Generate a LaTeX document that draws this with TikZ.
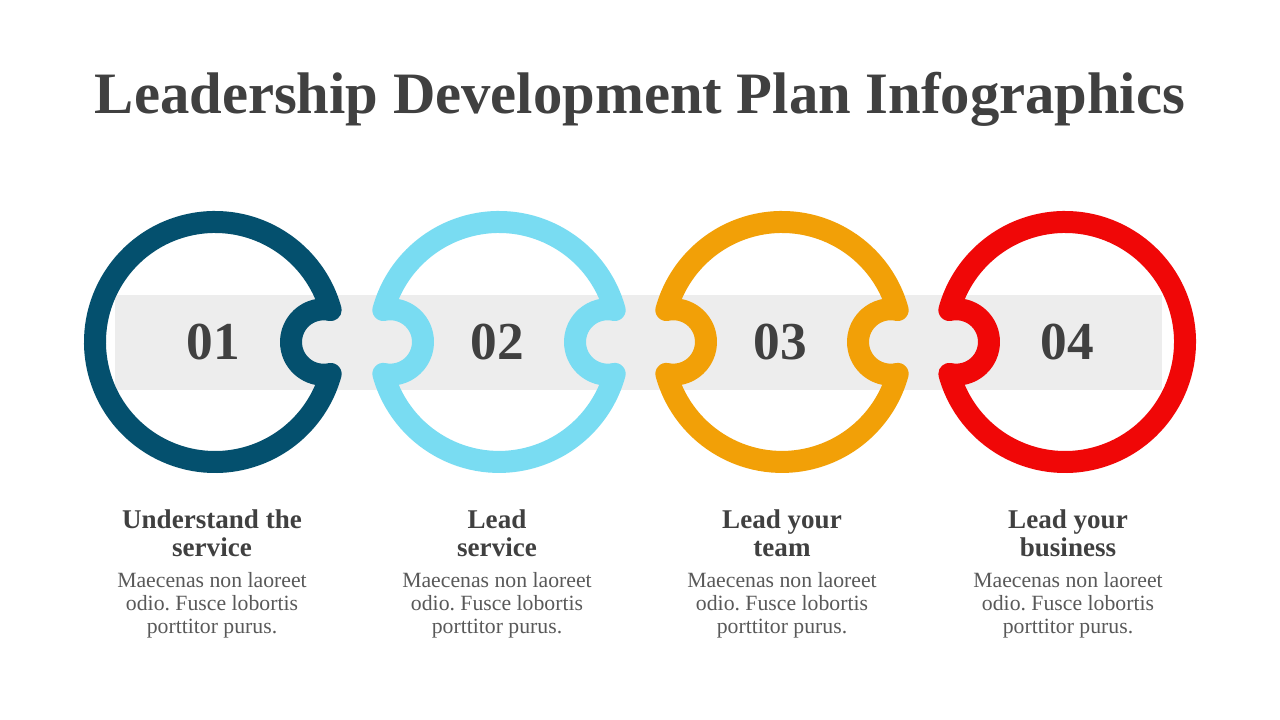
\documentclass[tikz,border=0pt]{standalone}
\usepackage{fontspec}
\setmainfont{Liberation Serif}
\frenchspacing
\definecolor{cA}{HTML}{04506E}
\definecolor{cB}{HTML}{79DCF2}
\definecolor{cC}{HTML}{F2A007}
\definecolor{cD}{HTML}{F00707}
\definecolor{band}{HTML}{EDEDED}
\definecolor{ink}{HTML}{404040}
\definecolor{body}{HTML}{595959}
\begin{document}
\begin{tikzpicture}[x=0.75pt,y=0.75pt,
  ring/.style={line width=16.5pt,line join=round,line cap=round},
  numlbl/.style={text=ink,font=\bfseries\fontsize{40}{40}\selectfont},
  headlbl/.style={text=ink,align=center,font=\bfseries\fontsize{20.3}{21}\selectfont},
  bodylbl/.style={text=body,align=center,font=\fontsize{16.3}{17.25}\selectfont}]
\useasboundingbox (0,0) rectangle (1280,720);
\fill[white] (0,0) rectangle (1280,720);
\node[text=ink,font=\bfseries\fontsize{44}{44}\selectfont] (title) at (640,621) {Leadership Development Plan Infographics};
\fill[band] (115,425) rectangle (1162,330);
% ring 1: notch on right
\draw[ring,draw=cA] (215,378) ++(15.46:120) arc[start angle=15.46,end angle=344.54,radius=120]
  arc[start angle=282.3,end angle=77.7,radius=32.7] -- cycle;
% ring 2: notches on both sides
\draw[ring,draw=cB] (499,378) ++(15.46:120) arc[start angle=15.46,end angle=164.54,radius=120]
  arc[start angle=102.3,end angle=-102.3,radius=32.7]
  arc[start angle=195.46,end angle=344.54,radius=120]
  arc[start angle=282.3,end angle=77.7,radius=32.7] -- cycle;
% ring 3
\draw[ring,draw=cC] (782,378) ++(15.46:120) arc[start angle=15.46,end angle=164.54,radius=120]
  arc[start angle=102.3,end angle=-102.3,radius=32.7]
  arc[start angle=195.46,end angle=344.54,radius=120]
  arc[start angle=282.3,end angle=77.7,radius=32.7] -- cycle;
% ring 4: notch on left
\draw[ring,draw=cD] (1065,378) ++(195.46:120) arc[start angle=195.46,end angle=524.54,radius=120]
  arc[start angle=102.3,end angle=-102.3,radius=32.7] -- cycle;
\node[numlbl] (n1) at (213,378) {01};
\node[numlbl] (n2) at (497,378) {02};
\node[numlbl] (n3) at (780,378) {03};
\node[numlbl] (n4) at (1067,378) {04};
\node[headlbl] (h1) at (212,187) {Understand the\\service};
\node[headlbl] (h2) at (497,187) {Lead\\service};
\node[headlbl] (h3) at (782,187) {Lead your\\team};
\node[headlbl] (h4) at (1068,187) {Lead your\\business};
\node[bodylbl] (b1) at (212,115) {Maecenas non laoreet\\odio. Fusce lobortis\\porttitor purus.};
\node[bodylbl] (b2) at (497,115) {Maecenas non laoreet\\odio. Fusce lobortis\\porttitor purus.};
\node[bodylbl] (b3) at (782,115) {Maecenas non laoreet\\odio. Fusce lobortis\\porttitor purus.};
\node[bodylbl] (b4) at (1068,115) {Maecenas non laoreet\\odio. Fusce lobortis\\porttitor purus.};
\end{tikzpicture}
\end{document}
